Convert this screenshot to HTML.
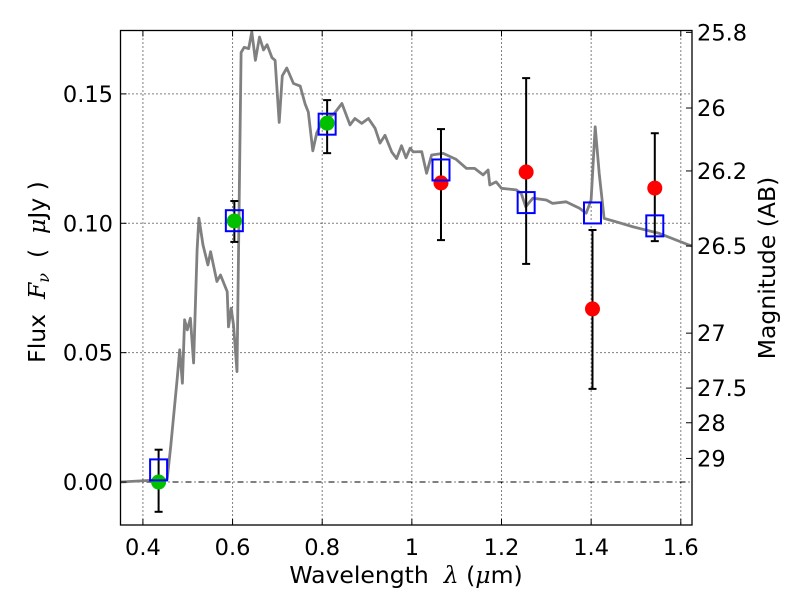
<!DOCTYPE html>
<html><head><meta charset="utf-8">
<style>
html,body{margin:0;padding:0;background:#fff;}
svg{display:block;font-family:"DejaVu Sans","Liberation Sans",sans-serif;}
</style></head>
<body>
<svg id="chart" width="800" height="600" viewBox="0 0 800 600" xmlns="http://www.w3.org/2000/svg">
<rect width="800" height="600" fill="#fff"/>
<g id="grid"></g>
<g id="spec"></g>
<g id="marks"></g>
<rect x="120.5" y="30.5" width="571.5" height="494.5" fill="none" stroke="#000" stroke-width="1.3"/>
<g id="ticks"></g>
<text x="406" y="583" font-size="23.5" text-anchor="middle" xml:space="preserve">Wavelength  <tspan font-family="'DejaVu Serif',serif" font-style="italic">λ</tspan> (<tspan font-family="'DejaVu Serif',serif" font-style="italic">μ</tspan>m)</text>
<text transform="translate(45,272) rotate(-90)" font-size="23.5" text-anchor="middle" xml:space="preserve">Flux  <tspan font-family="'DejaVu Serif',serif" font-style="italic">F<tspan font-size="16" dy="4">ν</tspan></tspan><tspan dy="-4">  (  </tspan><tspan font-family="'DejaVu Serif',serif" font-style="italic">μ</tspan>Jy )</text>
<text transform="translate(775,268) rotate(-90)" font-size="23.5" text-anchor="middle">Magnitude (AB)</text>
</svg>
<script>
const xTicks=[0.4,0.6,0.8,1.0,1.2,1.4,1.6];
const xTickLabels=["0.4","0.6","0.8","1","1.2","1.4","1.6"];
const yTicks=[0,0.05,0.10,0.15];
const yTickLabels=["0.00","0.05","0.10","0.15"];
const magTicks=[25.8,26,26.2,26.5,27,27.5,28,29];
const magTickLabels=["25.8","26","26.2","26.5","27","27.5","28","29"];
const specLambda=[0.35,0.454,0.462,0.477,0.482,0.488,0.493,0.499,0.506,0.513,0.521,0.525,0.534,0.545,0.551,0.565,0.573,0.588,0.591,0.597,0.602,0.610,0.619,0.626,0.636,0.643,0.651,0.660,0.669,0.677,0.688,0.695,0.704,0.711,0.721,0.736,0.751,0.762,0.769,0.779,0.788,0.799,0.812,0.825,0.844,0.862,0.873,0.888,0.903,0.918,0.929,0.940,0.955,0.966,0.977,0.987,0.996,1.003,1.022,1.033,1.044,1.070,1.099,1.122,1.140,1.159,1.170,1.174,1.188,1.200,1.233,1.244,1.254,1.270,1.300,1.314,1.344,1.374,1.389,1.400,1.409,1.418,1.429,1.455,1.492,1.552,1.618,1.625];
const specFlux=[0,0.001,0.0137,0.0408,0.0511,0.0382,0.0627,0.0588,0.0633,0.046,0.0897,0.102,0.0916,0.0839,0.089,0.0775,0.080,0.0736,0.060,0.0672,0.0607,0.0427,0.166,0.168,0.1675,0.174,0.163,0.172,0.167,0.169,0.164,0.163,0.139,0.157,0.160,0.154,0.153,0.146,0.143,0.128,0.135,0.139,0.141,0.142,0.1463,0.138,0.1405,0.1386,0.1405,0.1367,0.131,0.134,0.1276,0.125,0.130,0.1253,0.129,0.1276,0.1277,0.1193,0.1264,0.127,0.1247,0.1212,0.1212,0.1187,0.1206,0.1148,0.116,0.1135,0.1129,0.1116,0.1064,0.1097,0.109,0.1077,0.1083,0.1058,0.1039,0.109,0.1373,0.1193,0.1019,0.1006,0.0987,0.0961,0.0916,0.0913];
const modelLambda=[0.435,0.604,0.811,1.065,1.255,1.403,1.542];
const modelFlux=[0.0047,0.101,0.1383,0.1206,0.108,0.104,0.099];
const obsLambda=[0.435,0.604,0.811,1.065,1.255,1.403,1.542];
const obsFlux=[0.0,0.1009,0.1387,0.1156,0.1198,0.0669,0.1136];
const obsErrLow=[-0.0115,0.0928,0.1271,0.0935,0.0843,0.036,0.0931];
const obsErrHigh=[0.0125,0.1086,0.1476,0.1364,0.1561,0.0974,0.1348];
const obsColor=["#00c000","#00c000","#00c000","#ff0000","#ff0000","#ff0000","#ff0000"];

const X0=120.5,X1=692,Y0=30.5,Y1=525;
const xmin=0.35,xmax=1.625,ymin=-0.0166,ymax=0.1745;
const sx=v=>X0+(v-xmin)/(xmax-xmin)*(X1-X0);
const sy=v=>Y1-(v-ymin)/(ymax-ymin)*(Y1-Y0);
const magToFlux=m=>Math.pow(10,(23.9-m)/2.5);
const NS="http://www.w3.org/2000/svg";
function mk(tag,attrs,parent){const e=document.createElementNS(NS,tag);for(const k in attrs)e.setAttribute(k,attrs[k]);parent.appendChild(e);return e;}
const grid=document.getElementById('grid'),ticks=document.getElementById('ticks'),spec=document.getElementById('spec'),marks=document.getElementById('marks');

xTicks.forEach((t,i)=>{
  const x=sx(t);
  const g=mk('line',{x1:x,x2:x,y1:Y0,y2:Y1,stroke:'#000','stroke-width':1,'stroke-dasharray':'1,3'},grid);
  
  
  const a=mk('line',{x1:x,x2:x,y1:Y1,y2:Y1-6,stroke:'#000','stroke-width':1},ticks);
  
  
  const b=mk('line',{x1:x,x2:x,y1:Y0,y2:Y0+6,stroke:'#000','stroke-width':1},ticks);
  
  
  const l=mk('text',{x:x,y:555,'font-size':22.5,'text-anchor':'middle'},ticks);
  l.textContent=xTickLabels[i];
  
  
});
yTicks.forEach((t,i)=>{
  const y=sy(t);
  const g=mk('line',{x1:X0,x2:X1,y1:y,y2:y,stroke:'#000','stroke-width':1,'stroke-dasharray':t===0?'6,3,1,3':'1,3'},grid);
  
  
  const a=mk('line',{x1:X0,x2:X0+6,y1:y,y2:y,stroke:'#000','stroke-width':1},ticks);
  
  
  const l=mk('text',{x:113,y:y+8,'font-size':22.5,'text-anchor':'end'},ticks);
  l.textContent=yTickLabels[i];
  
  
});
magTicks.forEach((m,i)=>{
  const y=sy(magToFlux(m));
  const a=mk('line',{x1:X1-6,x2:X1,y1:y,y2:y,stroke:'#000','stroke-width':1},ticks);
  
  
  const l=mk('text',{x:697,y:y+8,'font-size':22.5},ticks);
  l.textContent=magTickLabels[i];
  
  
});

const pts=specLambda.map((l,i)=>sx(l).toFixed(1)+','+sy(specFlux[i]).toFixed(1)).join(' ');
const pl=mk('polyline',{points:pts,fill:'none',stroke:'#808080','stroke-width':2.8,'stroke-linejoin':'round'},spec);



obsLambda.forEach((l,i)=>{
  const x=sx(l);
  const e=mk('line',{x1:x,x2:x,y1:sy(obsErrLow[i]),y2:sy(obsErrHigh[i]),stroke:'#000','stroke-width':2},marks);
  
  
  [obsErrLow[i],obsErrHigh[i]].forEach(v=>{
    const c=mk('line',{x1:x-4,x2:x+4,y1:sy(v),y2:sy(v),stroke:'#000','stroke-width':2},marks);
    
    
  });
  const d=mk('circle',{cx:x,cy:sy(obsFlux[i]),r:7.5,fill:obsColor[i]},marks);
  
  
});
modelLambda.forEach((l,i)=>{
  const s=mk('rect',{x:sx(l)-8.5,y:sy(modelFlux[i])-10.5,width:17,height:21,fill:'none',stroke:'#0000ff','stroke-width':2},marks);
  
  
});
</script>
</body></html>
